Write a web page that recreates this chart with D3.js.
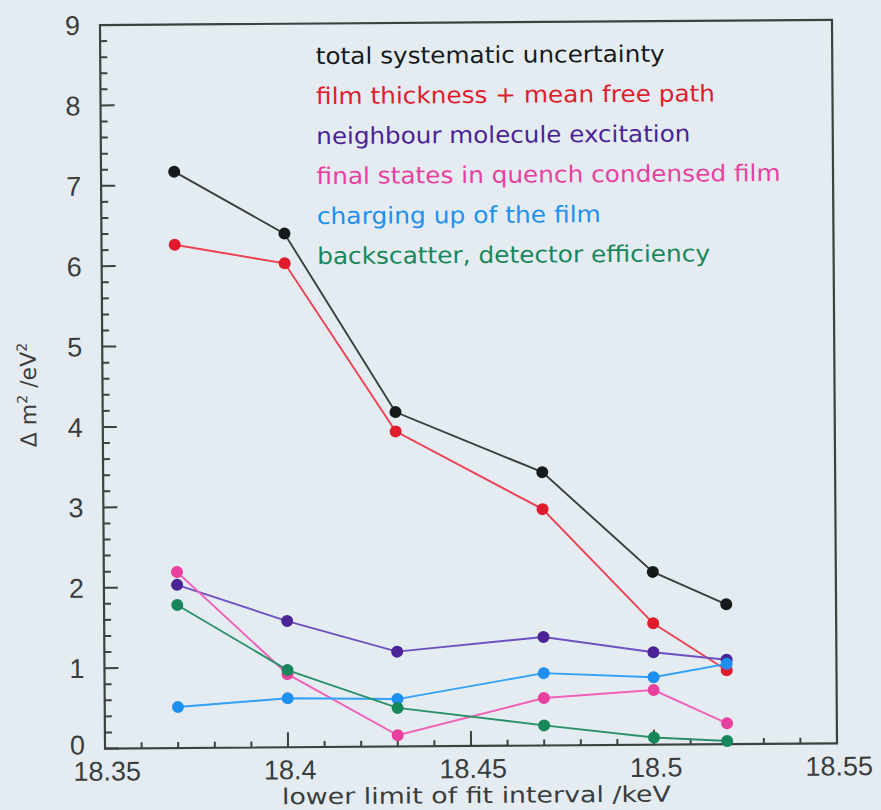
<!DOCTYPE html>
<html lang="en">
<head>
    <meta charset="UTF-8">
    <title>Systematic uncertainties vs lower fit limit</title>
    <script src="https://d3js.org/d3.v7.min.js"></script>
    <style>
        body { margin: 0; background: #e4ecf2; }
        svg { display: block; }
        .tick-label { font-family: "Liberation Sans", Arial, sans-serif; font-size: 27px; fill: #3a3d3c; }
        .legend { font-family: "DejaVu Sans", sans-serif; font-size: 23px; }
        .title { font-family: "DejaVu Sans", sans-serif; font-size: 22px; fill: #3a3d3c; }
    </style>
</head>
<body>
<svg id="chart" width="881" height="810"></svg>
<script>
    // data
    const xValues = [18.37, 18.40, 18.43, 18.47, 18.50, 18.52];
    const totalSyst = [7.17, 6.39, 4.16, 3.40, 2.15, 1.74];
    const filmThickness = [6.26, 6.02, 3.92, 2.94, 1.51, 0.92];
    const neighbourExc = [2.03, 1.57, 1.18, 1.35, 1.15, 1.05];
    const finalStates = [2.19, 0.91, 0.14, 0.59, 0.68, 0.26];
    const chargingUp = [0.51, 0.61, 0.59, 0.90, 0.84, 1.00];
    const backscatter = [1.78, 0.96, 0.48, 0.25, 0.09, 0.04];

    const seriesNames = [
        "total systematic uncertainty",
        "film thickness + mean free path",
        "neighbour molecule excitation",
        "final states in quench condensed film",
        "charging up of the film",
        "backscatter, detector efficiency"
    ];
    const seriesValues = [totalSyst, filmThickness, neighbourExc, finalStates, chargingUp, backscatter];
    const seriesColors = ["#161a1a", "#e01c2c", "#4a2496", "#e8409e", "#2090f0", "#17875a"];
    const lineColors = ["#3a3f3e", "#ee4050", "#7050c0", "#f060b8", "#30a0f8", "#2a9068"];
    const legendWidths = [349, 399, 374, 464, 284, 393];

    const xTicks = [18.35, 18.4, 18.45, 18.5, 18.55];
    const yTicks = [0, 1, 2, 3, 4, 5, 6, 7, 8, 9];

    const plotLeft = 102.5, plotRight = 834.5, plotTop = 22.5, plotBottom = 746;

    const svg = d3.select("#chart");
    svg.append("rect").attr("width", 881).attr("height", 810).attr("fill", "#e4ecf2");

    // the scan is slightly rotated
    const g = svg.append("g").attr("transform", "rotate(-0.4, 468, 384)");

    const x = d3.scaleLinear().domain([18.35, 18.55]).range([plotLeft, plotRight]);
    const y = d3.scaleLinear().domain([0, 9]).range([plotBottom, plotTop]);

    // frame
    g.append("rect")
        .attr("x", plotLeft).attr("y", plotTop)
        .attr("width", plotRight - plotLeft).attr("height", plotBottom - plotTop)
        .attr("fill", "none").attr("stroke", "#3c423e").attr("stroke-width", 2.2);

    // y ticks (major + minor)
    const yMinor = d3.range(0, 9.001, 0.2);
    g.selectAll(".ytick").data(yMinor).enter().append("line")
        .attr("x1", plotLeft)
        .attr("x2", d => Math.abs(d - Math.round(d)) < 1e-6 ? plotLeft + 14 : plotLeft + 7)
        .attr("y1", d => y(d)).attr("y2", d => y(d))
        .attr("stroke", "#3c423e").attr("stroke-width", 2);

    // x ticks (major + minor)
    const xMinor = d3.range(18.35, 18.5501, 0.01);
    g.selectAll(".xtick").data(xMinor).enter().append("line")
        .attr("x1", d => x(d)).attr("x2", d => x(d))
        .attr("y1", plotBottom)
        .attr("y2", d => {
            const k = Math.round((d - 18.35) / 0.01);
            return k % 5 === 0 ? plotBottom - 15 : plotBottom - 6;
        })
        .attr("stroke", "#3c423e").attr("stroke-width", 2);

    g.selectAll(".ylab").data(yTicks).enter().append("text")
        .attr("class", "tick-label")
        .attr("x", plotLeft - 20)
        .attr("y", d => d === 0 ? y(d) - 4 : y(d))
        .attr("dy", "0.36em")
        .attr("text-anchor", "end")
        .text(d => d);

    g.selectAll(".xlab").data(xTicks).enter().append("text")
        .attr("class", "tick-label")
        .attr("x", d => x(d) + 2)
        .attr("y", plotBottom + 32)
        .attr("text-anchor", "middle")
        .text(d => d);

    // axis titles
    g.append("text")
        .attr("class", "title")
        .attr("x", 279).attr("y", 803)
        .attr("textLength", 389).attr("lengthAdjust", "spacingAndGlyphs")
        .text("lower limit of fit interval /keV");

    const yt = g.append("text")
        .attr("class", "title")
        .attr("font-size", "23px")
        .attr("transform", "translate(36,392) rotate(-90)")
        .attr("text-anchor", "middle");
    yt.append("tspan").text("Δ m");
    yt.append("tspan").attr("font-size", "14px").attr("dy", "-9").text("2");
    yt.append("tspan").attr("dy", "9").text(" /eV");
    yt.append("tspan").attr("font-size", "14px").attr("dy", "-9").text("2");

    // series
    const line = d3.line().x((d, i) => x(xValues[i])).y(d => y(d));
    seriesValues.forEach((vals, s) => {
        g.append("path")
            .attr("d", line(vals))
            .attr("fill", "none")
            .attr("stroke", lineColors[s])
            .attr("stroke-width", 1.9);
        g.selectAll(".pt" + s).data(vals).enter().append("circle")
            .attr("cx", (d, i) => x(xValues[i]))
            .attr("cy", d => y(d))
            .attr("r", 6)
            .attr("fill", seriesColors[s]);
    });

    // legend
    g.selectAll(".legend").data(seriesNames).enter().append("text")
        .attr("class", "legend")
        .attr("x", 318)
        .attr("y", (d, i) => 63 + i * 40)
        .attr("fill", (d, i) => seriesColors[i])
        .attr("textLength", (d, i) => legendWidths[i])
        .attr("lengthAdjust", "spacingAndGlyphs")
        .text(d => d);
</script>
</body>
</html>
